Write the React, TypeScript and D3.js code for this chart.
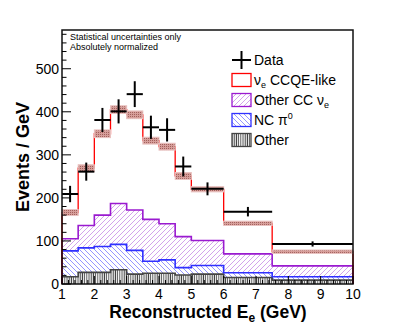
import * as d3 from "d3";
import { useEffect, useRef } from "react";

// bin edges in reconstructed E_e (GeV)
const edges = [1, 1.5, 2, 2.5, 3, 3.5, 4, 4.5, 5, 6, 7.5, 10];
// stacked MC components, events / GeV
const otherBkg = [17, 27, 27, 33, 23, 25, 25, 21, 23, 15, 9];
const ncPi0 = [60, 57, 60, 59, 55, 28, 31, 17, 20, 11, 8];
const otherCC = [28, 52, 73, 95, 94, 97, 84, 72, 58, 44, 25];
const ccqe = [61, 133, 189, 218, 221, 183, 179, 141, 119, 71, 33];
const mcErr = [7, 8, 9, 9, 9, 8, 8, 8, 6, 5, 4];
// data
const dataVals = [209, 261, 381, 401, 441, 364, 358, 273, 221, 168, 93];
const dataErr = [19, 21, 28, 28, 30, 27, 27, 23, 15, 11, 6];

const xTicks = [1, 2, 3, 4, 5, 6, 7, 8, 9, 10];
const yTicks = [0, 100, 200, 300, 400, 500];

const font = "'Liberation Sans', Arial, Helvetica, sans-serif";

export default function App() {
  const ref = useRef<SVGSVGElement>(null);

  useEffect(() => {
    const svg = d3.select(ref.current);
    svg.selectAll("*").remove();

    const x = d3.scaleLinear().domain([1, 10]).range([62, 353]);
    const y = d3.scaleLinear().domain([0, 590]).range([284, 30]);

    const defs = svg.append("defs");
    const hatch = (id, d, color, w, size) => {
      const p = defs
        .append("pattern")
        .attr("id", id)
        .attr("patternUnits", "userSpaceOnUse")
        .attr("width", size)
        .attr("height", size);
      p.append("path").attr("d", d).attr("stroke", color).attr("stroke-width", w).attr("fill", "none");
    };
    hatch("hpurple", "M0,5 L5,0 M-1,1 L1,-1 M4,6 L6,4", "#c68be6", 0.8, 5);
    hatch("hblue", "M0,0 L5,5 M-1,4 L1,6 M4,-1 L6,1", "#7a7aff", 0.8, 5);
    hatch("hgrey", "M1,0 L1,3", "#444", 1, 2.2);
    const dots = defs
      .append("pattern")
      .attr("id", "hband")
      .attr("patternUnits", "userSpaceOnUse")
      .attr("width", 2)
      .attr("height", 2);
    dots.append("rect").attr("width", 2).attr("height", 2).attr("fill", "#d69e9a");
    dots.append("rect").attr("width", 1).attr("height", 1).attr("fill", "#a2605c");

    const rows = edges.slice(0, -1).map((e, i) => ({
      other: otherBkg[i],
      nc: ncPi0[i],
      othercc: otherCC[i],
      ccqe: ccqe[i],
    }));
    const stack = d3.stack().keys(["other", "nc", "othercc", "ccqe"])(rows);

    const stepPts = (s) => {
      const pts = s.map((d, i) => ({ x: edges[i], y0: d[0], y1: d[1] }));
      const last = s[s.length - 1];
      pts.push({ x: edges[edges.length - 1], y0: last[0], y1: last[1] });
      return pts;
    };
    const area = d3
      .area()
      .x((d) => x(d.x))
      .y0((d) => y(d.y0))
      .y1((d) => y(d.y1))
      .curve(d3.curveStepAfter);
    const line = d3
      .line()
      .x((d) => x(d.x))
      .y((d) => y(d.y1))
      .curve(d3.curveStepAfter);

    const fills = ["url(#hgrey)", "url(#hblue)", "url(#hpurple)", "none"];
    const strokes = ["#444", "#3030ff", "#9a1ad0", "#ff0000"];

    stack.forEach((s, k) => {
      if (fills[k] !== "none") {
        svg.append("path").attr("d", area(stepPts(s))).attr("fill", fills[k]);
      }
    });
    stack.forEach((s, k) => {
      const pts = stepPts(s);
      const full = [{ x: 1, y0: 0, y1: 0 }, ...pts, { x: 10, y0: 0, y1: 0 }];
      svg
        .append("path")
        .attr("d", line(full))
        .attr("fill", "none")
        .attr("stroke", strokes[k])
        .attr("stroke-width", k === 3 ? 1.3 : 1.6);
    });

    // MC uncertainty band
    const top = stack[3];
    svg
      .append("g")
      .selectAll("rect")
      .data(top)
      .enter()
      .append("rect")
      .attr("x", (d, i) => x(edges[i]))
      .attr("width", (d, i) => x(edges[i + 1]) - x(edges[i]))
      .attr("y", (d, i) => y(d[1] + mcErr[i]))
      .attr("height", (d, i) => y(d[1] - mcErr[i]) - y(d[1] + mcErr[i]))
      .attr("fill", "url(#hband)")
      .attr("stroke", "#e9c2c0")
      .attr("stroke-width", 1);

    // data
    const dg = svg.append("g").attr("stroke", "#000").attr("stroke-width", 2);
    dataVals.forEach((v, i) => {
      const xc = x((edges[i] + edges[i + 1]) / 2);
      dg.append("line").attr("x1", x(edges[i])).attr("x2", x(edges[i + 1])).attr("y1", y(v)).attr("y2", y(v));
      dg.append("line").attr("x1", xc).attr("x2", xc).attr("y1", y(v - dataErr[i])).attr("y2", y(v + dataErr[i]));
    });

    // frame
    svg
      .append("rect")
      .attr("x", 62)
      .attr("y", 30)
      .attr("width", 291)
      .attr("height", 254)
      .attr("fill", "none")
      .attr("stroke", "#111")
      .attr("stroke-width", 1.5);

    // ticks (inside)
    const ax = svg.append("g").attr("stroke", "#000").attr("stroke-width", 1);
    d3.range(0, 590, 20).forEach((t) => {
      const len = t % 100 === 0 ? 9 : 4.5;
      ax.append("line").attr("x1", 62).attr("x2", 62 + len).attr("y1", y(t)).attr("y2", y(t));
    });
    d3.range(1, 10.01, 0.2).forEach((t) => {
      const major = Math.abs(t - Math.round(t)) < 1e-6;
      const len = major ? 8 : 4;
      ax.append("line").attr("x1", x(t)).attr("x2", x(t)).attr("y1", 284).attr("y2", 284 - len);
    });

    svg
      .append("g")
      .selectAll("text")
      .data(yTicks)
      .enter()
      .append("text")
      .attr("x", 59)
      .attr("y", (d) => y(d) + 5)
      .attr("text-anchor", "end")
      .attr("font-family", font)
      .attr("font-size", 14)
      .text((d) => d);

    svg
      .append("g")
      .selectAll("text")
      .data(xTicks)
      .enter()
      .append("text")
      .attr("x", (d) => x(d))
      .attr("y", 299)
      .attr("text-anchor", "middle")
      .attr("font-family", font)
      .attr("font-size", 14)
      .text((d) => d);

    // axis titles
    const xt = svg
      .append("text")
      .attr("x", 208)
      .attr("y", 318)
      .attr("text-anchor", "middle")
      .attr("font-family", font)
      .attr("font-weight", "bold")
      .attr("font-size", 17.5);
    xt.append("tspan").text("Reconstructed E");
    xt.append("tspan").attr("font-size", 12).attr("dy", 4).text("e");
    xt.append("tspan").attr("dy", -4).text(" (GeV)");

    svg
      .append("text")
      .attr("transform", "translate(29,157) rotate(-90)")
      .attr("text-anchor", "middle")
      .attr("font-family", font)
      .attr("font-weight", "bold")
      .attr("font-size", 18)
      .text("Events / GeV");

    // notes
    ["Statistical uncertainties only", "Absolutely normalized"].forEach((t, i) => {
      svg
        .append("text")
        .attr("x", 70)
        .attr("y", 39.5 + i * 10)
        .attr("font-family", font)
        .attr("font-size", 9)
        .text(t);
    });

    // legend
    const lg = svg.append("g").attr("font-family", font).attr("font-size", 14);
    const lx = 232;
    const bw = 19;
    lg.append("line").attr("x1", lx).attr("x2", lx + bw).attr("y1", 60).attr("y2", 60).attr("stroke", "#000").attr("stroke-width", 2);
    lg.append("line").attr("x1", lx + bw / 2).attr("x2", lx + bw / 2).attr("y1", 51).attr("y2", 69).attr("stroke", "#000").attr("stroke-width", 2);
    lg.append("text").attr("x", 254).attr("y", 65).text("Data");

    const boxes = [
      { fill: "#fff", stroke: "#ff0000" },
      { fill: "url(#hpurple)", stroke: "#9a1ad0" },
      { fill: "url(#hblue)", stroke: "#3030ff" },
      { fill: "url(#hgrey)", stroke: "#444" },
    ];
    boxes.forEach((b, i) => {
      const cy = 80 + i * 20;
      lg.append("rect")
        .attr("x", lx)
        .attr("y", cy - 6.5)
        .attr("width", bw)
        .attr("height", 13)
        .attr("fill", b.fill)
        .attr("stroke", b.stroke)
        .attr("stroke-width", 1.3);
    });
    const t1 = lg.append("text").attr("x", 254).attr("y", 85);
    t1.append("tspan").text("ν");
    t1.append("tspan").attr("font-size", 9).attr("dy", 3).text("e");
    t1.append("tspan").attr("dy", -3).text(" CCQE-like");
    const t2 = lg.append("text").attr("x", 254).attr("y", 105);
    t2.append("tspan").text("Other CC ν");
    t2.append("tspan").attr("font-size", 9).attr("dy", 3).text("e");
    const t3 = lg.append("text").attr("x", 254).attr("y", 125);
    t3.append("tspan").text("NC π");
    t3.append("tspan").attr("font-size", 9).attr("dy", -6).text("0");
    lg.append("text").attr("x", 254).attr("y", 145).text("Other");
  }, []);

  return (
    <div style={{ position: "absolute", left: 0, top: 0 }}>
      <svg ref={ref} width={415} height={335} style={{ background: "#fff" }} />
    </div>
  );
}
